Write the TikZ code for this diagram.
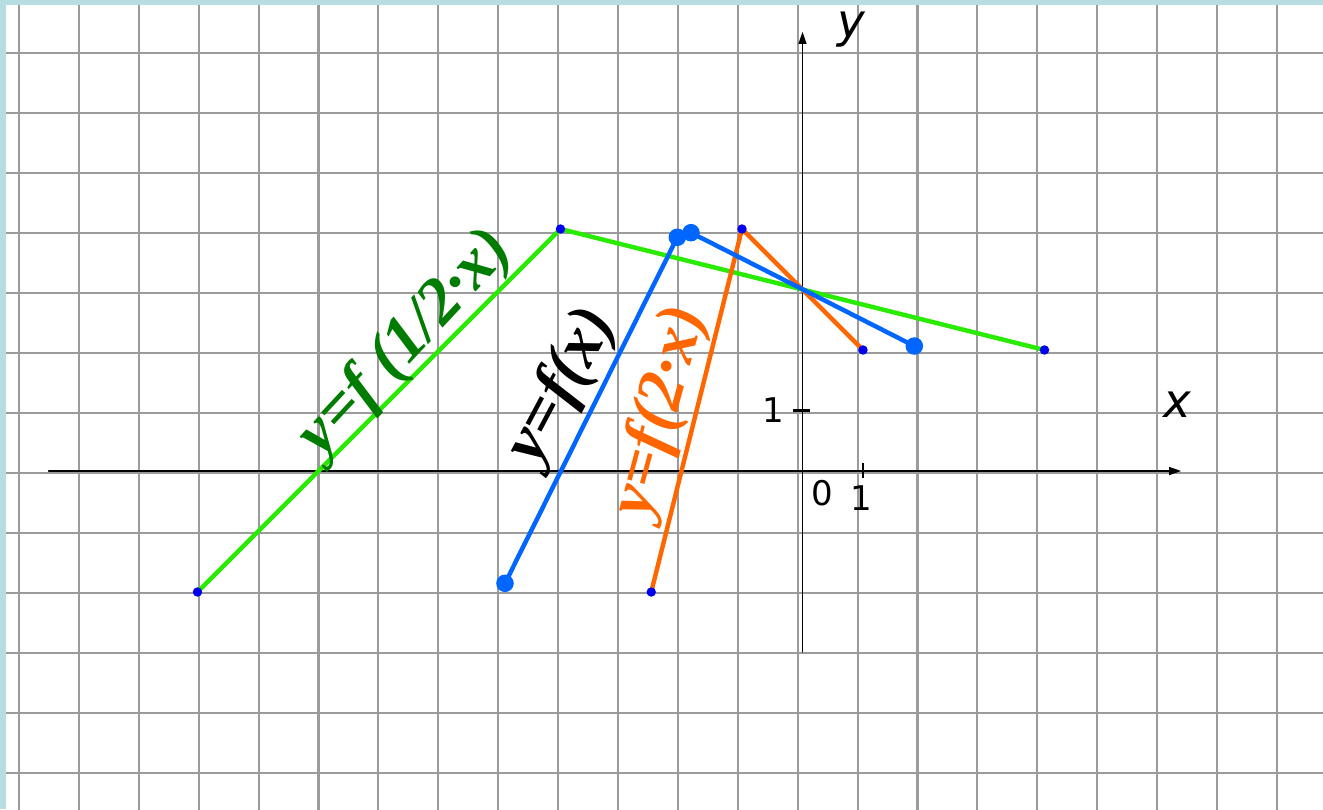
\documentclass[tikz,border=0pt]{standalone}
\usepackage{fontspec}
\usepackage{xcolor}
\usetikzlibrary{arrows.meta}
\newfontfamily\axisfont{DejaVu Sans}
\newfontfamily\graphfont{Liberation Serif}
\definecolor{papergray}{RGB}{155,155,155}
\definecolor{framecyan}{RGB}{182,222,226}
\definecolor{linegreen}{RGB}{40,235,0}
\definecolor{textgreen}{RGB}{0,125,0}
\definecolor{lineblue}{RGB}{0,102,255}
\definecolor{dotblue}{RGB}{0,0,240}
\definecolor{lineorange}{RGB}{255,102,0}

\begin{document}
\begin{tikzpicture}[>={Triangle[length=2mm,width=1.3mm]},line cap=round,
  paper/.style={papergray,line width=1pt,line cap=butt},
  curve/.style={line width=2.1pt},
  ticklbl/.style={font=\axisfont\fontsize{16}{16}\selectfont,inner sep=0pt},
  axislbl/.style={font=\axisfont\itshape\fontsize{22}{22}\selectfont,inner sep=0pt},
  fname/.style={font=\graphfont\bfseries\itshape\fontsize{31}{31}\selectfont,inner sep=0pt}]
\useasboundingbox (-13.264,-5.587) rectangle (8.603,7.785);
\fill[white] (-13.264,-5.587) rectangle (8.603,7.785);
% squared paper
\foreach \i in {0,...,21}
  \draw[paper] ({-12.95+0.99*\i},-5.6) -- ++(0,13.4);
\foreach \j in {0,...,12}
  \draw[paper] (-13.27,{6.914-0.992*\j}) -- ++(21.9,0);
\fill[framecyan] (-13.264,-5.587) rectangle (-13.165,7.785);
\fill[framecyan] (-13.264,7.785) rectangle (8.603,7.70);
% axes
\draw[->,line width=0.7pt] (-12.46,0) -- (6.26,0);
\draw[->,line width=0.7pt] (0,-2.99) -- (0,7.26);
\draw[line width=1.2pt,line cap=butt] (-0.16,1) -- (0.13,1);
\draw[line width=1.2pt,line cap=butt] (1,0.13) -- (1,-0.11);
\node[ticklbl] (one-y) at (-0.49,1.0) {1};
\node[ticklbl] (zero) at (0.32,-0.37) {0};
\node[ticklbl] (one-x) at (0.98,-0.45) {1};
\node[axislbl] (xlbl) at (6.19,1.09) {x};
\node[axislbl] (ylbl) at (0.80,7.29) {y};
% points of the graphs
\coordinate (G1) at (-10,-2);
\coordinate (G2) at (-4,4);
\coordinate (G3) at (4,2);
\coordinate (B1) at (-4.917,-1.856);
\coordinate (B2) at (-2.069,3.863);
\coordinate (B3) at (-1.843,3.939);
\coordinate (B4) at (1.848,2.066);
\coordinate (R1) at (-2.5,-2);
\coordinate (R2) at (-1,4);
\coordinate (R3) at (1,2);
\draw[curve,linegreen] (G1) -- (G2) -- (G3);
\draw[curve,lineorange] (R1) -- (R2) -- (R3);
\draw[curve,lineblue] (B1) -- (B2) -- (B3) -- (B4);
\foreach \p in {G1,G2,G3,R1,R2,R3}
  \fill[dotblue] (\p) circle (0.078);
\foreach \p in {B1,B2,B3,B4}
  \fill[lineblue] (\p) circle (0.145);
% labels
\node[fname,textgreen,rotate=47] (lbl-half) at (-6.55,2.1) {y=f (1/2·x)};
\node[fname,black,rotate=62] (lbl-f) at (-3.97,1.40) {y=f(x)};
\node[fname,lineorange,rotate=75] (lbl-two) at (-2.34,0.98) {y=f(2·x)};
\end{tikzpicture}
\end{document}
